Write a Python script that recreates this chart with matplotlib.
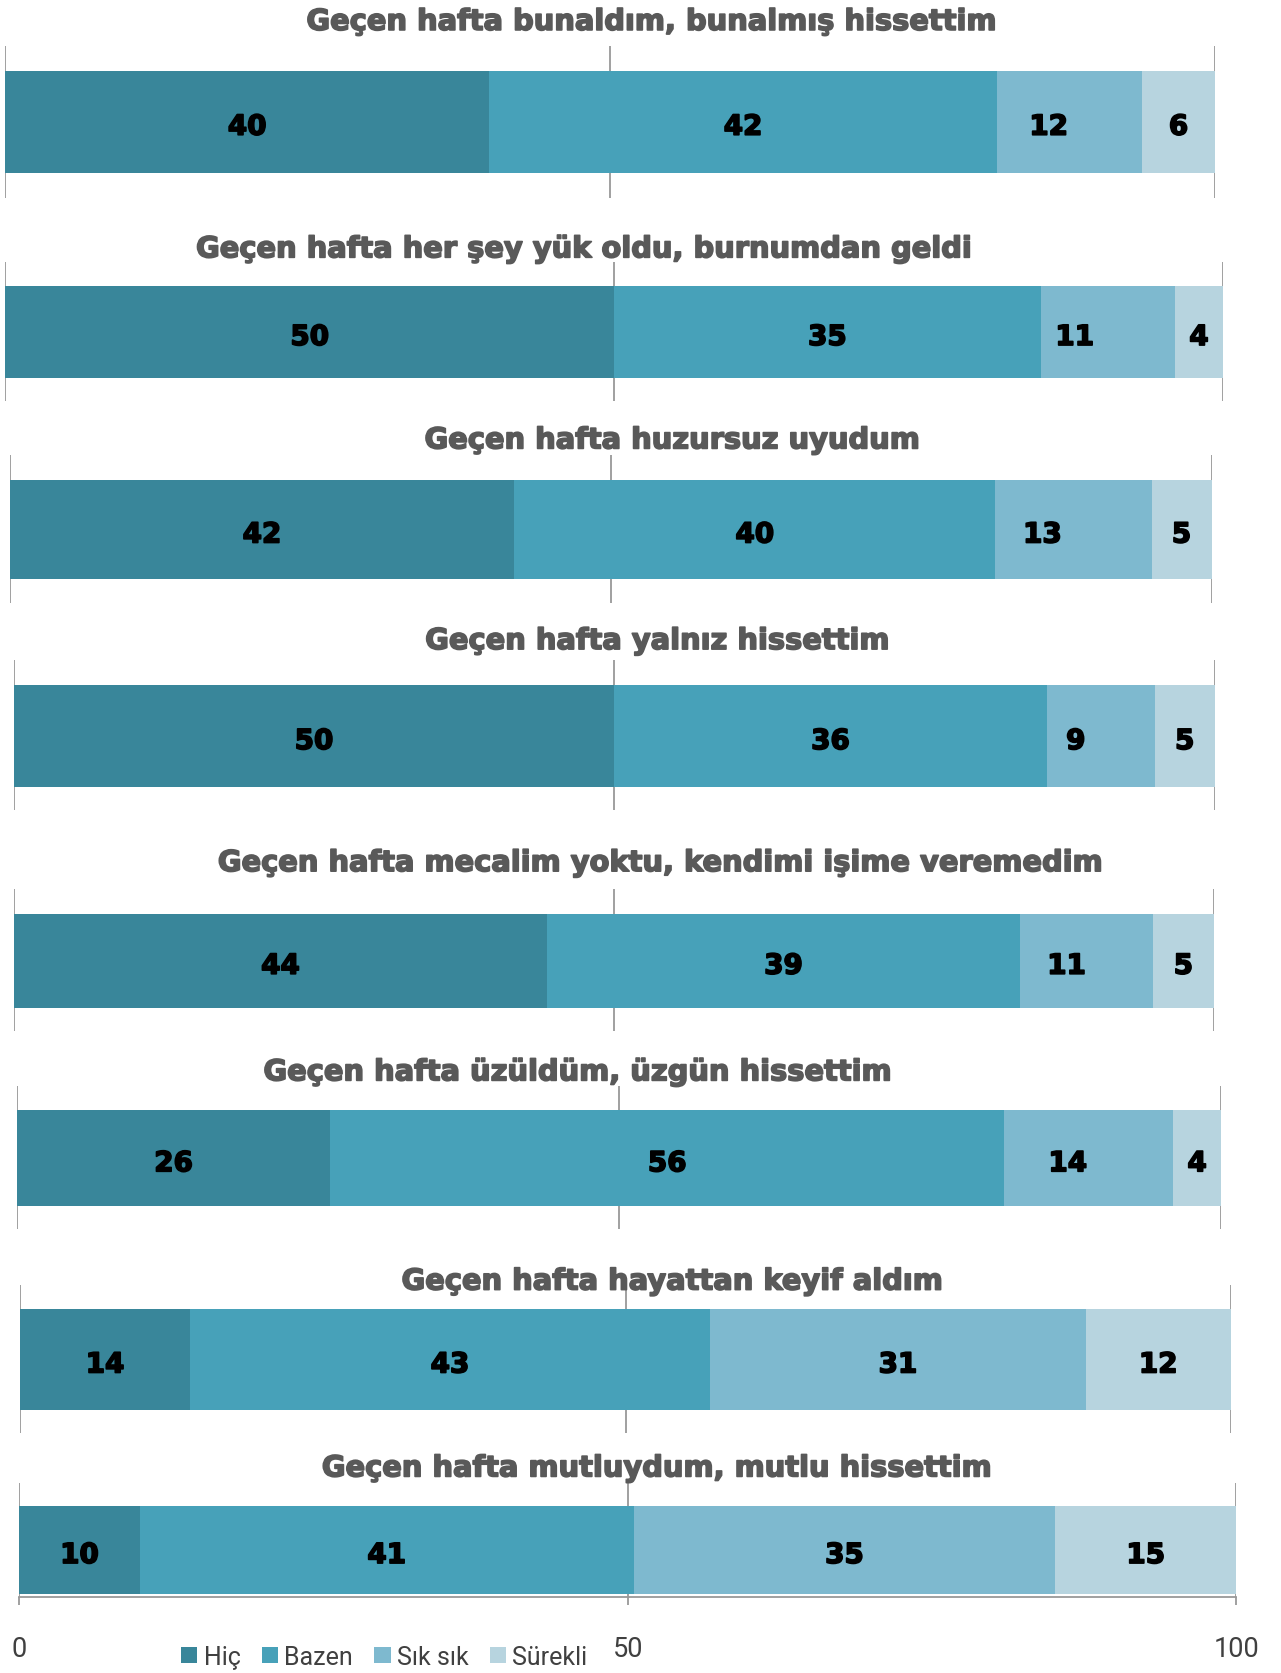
import matplotlib
matplotlib.use('Agg')
import matplotlib.pyplot as plt
from matplotlib.patches import Patch
import matplotlib.patheffects as pe

plt.rcParams['font.family'] = ['Roboto', 'DejaVu Sans']
HEAVY = ['DejaVu Sans']

# ---------------- data ----------------
titles = [
    "Geçen hafta bunaldım, bunalmış hissettim",
    "Geçen hafta her şey yük oldu, burnumdan geldi",
    "Geçen hafta huzursuz uyudum",
    "Geçen hafta yalnız hissettim",
    "Geçen hafta mecalim yoktu, kendimi işime veremedim",
    "Geçen hafta üzüldüm, üzgün hissettim",
    "Geçen hafta hayattan keyif aldım",
    "Geçen hafta mutluydum, mutlu hissettim",
]
series_names = ["Hiç", "Bazen", "Sık sık", "Sürekli"]
hic = [40, 50, 42, 50, 44, 26, 14, 10]
bazen = [42, 35, 40, 36, 39, 56, 43, 41]
sik_sik = [12, 11, 13, 9, 11, 14, 31, 35]
surekli = [6, 4, 5, 5, 5, 4, 12, 15]
x_ticks = [0, 50, 100]

# ---------------- style / layout ----------------
colors = ["#39869A", "#47A1B9", "#7EB9CF", "#B7D4DF"]
title_color = "#595959"
grid_color = "#999999"

W, H = 1281, 1674
S = W / 1200.0  # layout measured on 1200-wide preview

# per panel: x0, x100, grid_top, grid_bottom, bar_top, bar_bottom, title_cx, title_cy
layout = [
    (5, 1138, 44, 186, 67, 163, 609, 18),
    (5, 1146, 246, 377, 269, 355, 546, 231),
    (9, 1135, 427, 566, 451, 543, 629, 410),
    (13, 1138, 619, 760, 643, 738, 615, 598),
    (13, 1137, 834, 967, 857, 945, 617, 806),
    (16, 1144, 1018, 1152, 1041, 1131, 540, 1002),
    (19, 1153, 1205, 1343, 1227, 1322, 629, 1198),
    (18, 1158, 1390, 1497, 1412, 1494, 614, 1373),
]
third_shift = [-21, -33, -31, -25, -20, -21, 0, 0]  # px shift of 3rd-segment label

fig = plt.figure(figsize=(W / 100, H / 100), dpi=100)
series = [hic, bazen, sik_sik, surekli]

lbl_fx = [pe.withStroke(linewidth=1.2, foreground='black')]
ttl_fx = [pe.withStroke(linewidth=1.2, foreground=title_color)]

for i in range(len(titles)):
    x0, x100, gt, gb, bt, bb, tcx, tcy = layout[i]
    ax = fig.add_axes([x0 * S / W, 1 - gb * S / H,
                       (x100 - x0) * S / W, (gb - gt) * S / H])
    ax.set_xlim(0, 100)
    h = bb - bt
    ax.set_ylim(-0.5 - (gb - bb) / h, 0.5 + (bt - gt) / h)
    total = sum(s[i] for s in series)  # 100% stacked
    left = 0.0
    for j, vals in enumerate(series):
        v = vals[i]
        w = v * 100.0 / total
        ax.barh(0, w, left=left, height=1, color=colors[j], zorder=2, linewidth=0)
        dx = third_shift[i] if j == 2 else 0
        ax.annotate(str(v), (left + w / 2, 0), xytext=(dx, -5),
                    textcoords='offset pixels', ha='center', va='center',
                    fontsize=20, fontweight='bold', family=HEAVY,
                    color='black', zorder=3, path_effects=lbl_fx)
        left += w
    ax.set_xticks(x_ticks)
    ax.set_yticks([])
    ax.grid(axis='x', color=grid_color, lw=1.3, zorder=0)
    ax.set_axisbelow(True)
    for sp in ax.spines.values():
        sp.set_visible(False)
    if i < len(titles) - 1:
        ax.tick_params(axis='x', length=0, labelbottom=False)
    else:
        ax.spines['bottom'].set_visible(True)
        ax.spines['bottom'].set_color(grid_color)
        ax.spines['bottom'].set_linewidth(1.3)
        ax.tick_params(axis='x', length=6, width=1.3, color=grid_color, pad=21,
                       labelsize=19.5, labelcolor='#404040')
    fig.text(tcx * S / W, 1 - (tcy + 11) * S / H, titles[i], ha='center',
             va='baseline', fontsize=20.8, fontweight='bold', family=HEAVY,
             color=title_color, path_effects=ttl_fx)

handles = [Patch(facecolor=c, edgecolor='none') for c in colors]
fig.legend(handles, series_names, loc='center', ncol=4,
           bbox_to_anchor=(360 * S / W, 1 - 1553 * S / H), frameon=False,
           fontsize=18, labelcolor='#404040', handlelength=0.65, handleheight=0.65,
           handletextpad=0.25, columnspacing=0.85, borderpad=0)

fig.savefig('out.png', dpi=100)
